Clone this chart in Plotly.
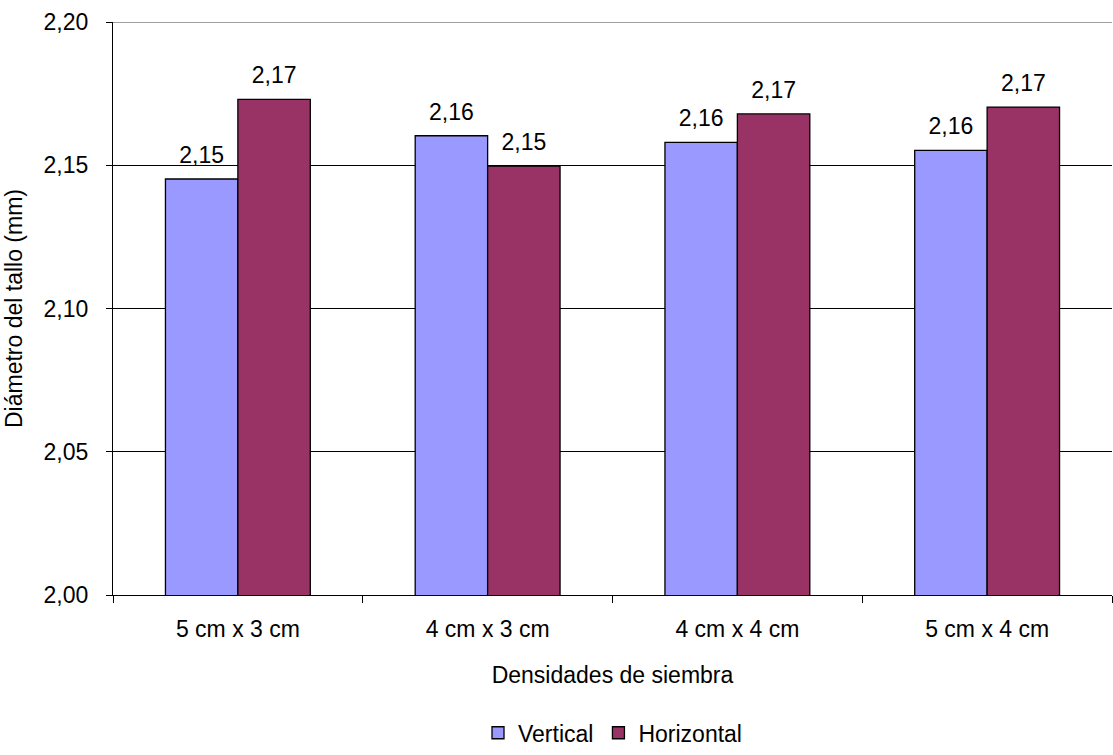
import plotly.graph_objects as go

categories = ["5 cm x 3 cm", "4 cm x 3 cm", "4 cm x 4 cm", "5 cm x 4 cm"]
vertical = [2.1452, 2.1603, 2.158, 2.1552]
horizontal = [2.173, 2.1497, 2.1679, 2.1703]
tick_vals = [2.00, 2.05, 2.10, 2.15, 2.20]
tick_text = ["2,00", "2,05", "2,10", "2,15", "2,20"]

FONT = "Liberation Sans, Arial, sans-serif"
FS = 23
GAP = 0.42

series = [("Vertical", vertical, "#9999FF"), ("Horizontal", horizontal, "#993366")]

fig = go.Figure()
for name, vals, col in series:
    fig.add_trace(go.Bar(
        name=name, x=categories, y=vals, offsetgroup=name,
        marker=dict(color=col, line=dict(color="black", width=1.3)),
    ))
for name, vals, col in series:
    fig.add_trace(go.Scatter(
        x=categories, y=vals, mode="markers+text", offsetgroup=name,
        marker=dict(size=15, opacity=0),
        texttemplate="%{y:.2f}", textposition="top center",
        textfont=dict(family=FONT, size=FS, color="black"),
        showlegend=False, hoverinfo="skip", cliponaxis=False,
    ))

fig.update_layout(
    width=1113, height=755,
    margin=dict(l=113, r=1, t=22, b=148),
    paper_bgcolor="white", plot_bgcolor="white",
    font=dict(family=FONT, size=FS, color="black"),
    separators=",.",
    barmode="group", bargap=GAP, bargroupgap=0,
    scattermode="group", scattergap=GAP,
    showlegend=True,
    legend=dict(orientation="h", x=0.5, xanchor="center", y=-0.203, yanchor="top",
                font=dict(family=FONT, size=FS), itemwidth=30, tracegroupgap=0),
    xaxis=dict(
        automargin=False,
        title=dict(text="Densidades de siembra", font=dict(size=FS), standoff=26),
        showline=True, linecolor="black", linewidth=1.3,
        ticks="outside", tickson="boundaries", ticklen=7, tickcolor="black", tickwidth=1.3,
        ticklabelstandoff=13,
        showgrid=False,
    ),
    yaxis=dict(
        automargin=False,
        title=dict(text="Diámetro del tallo (mm)", font=dict(size=FS), standoff=14),
        range=[2.0, 2.2], tickvals=tick_vals, ticktext=tick_text,
        showline=True, linecolor="black", linewidth=1.3,
        ticks="outside", ticklen=6, tickcolor="black", tickwidth=1.3,
        ticklabelstandoff=13,
        showgrid=True, gridcolor="black", gridwidth=1.3, zeroline=False,
    ),
    shapes=[dict(type="line", xref="paper", yref="y", x0=0, x1=1, y0=2.2, y1=2.2,
                 line=dict(color="#808080", width=1.5), layer="above")],
)

# remove the default page margin so the 1113x755 figure fills the window exactly
fig.write_html(
    "out.html",
    config={"displayModeBar": False},
    post_script="document.body.style.margin='0';document.body.style.overflow='hidden';"
                "document.documentElement.style.overflow='hidden';",
)
